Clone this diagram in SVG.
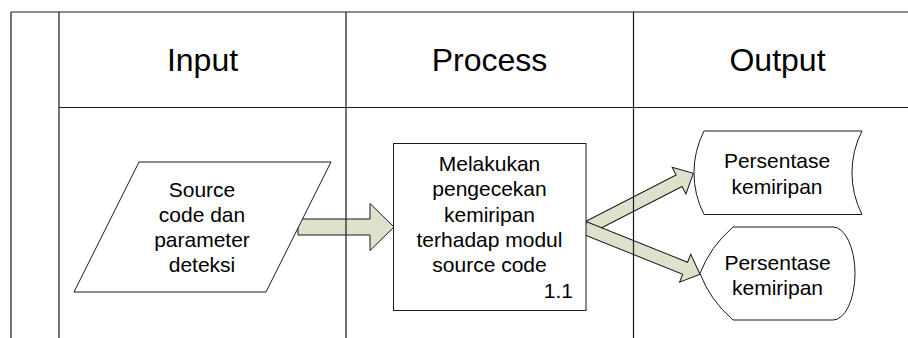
<svg xmlns="http://www.w3.org/2000/svg" width="908" height="338" viewBox="0 0 908 338">
  <defs>
    <style>
      .lane { fill: none; stroke: #1a1a1a; stroke-width: 1.2; }
      .shape { fill: #ffffff; stroke: #1a1a1a; stroke-width: 1; }
      .flow { fill: #dde2cd; stroke: #1a1a1a; stroke-width: 1; stroke-linejoin: miter; }
      .head { font-family: "Liberation Sans", Arial, sans-serif; font-size: 32px; fill: #000; text-anchor: middle; }
      .label { font-family: "Liberation Sans", Arial, sans-serif; font-size: 21px; fill: #000; text-anchor: middle; }
    </style>
  </defs>

  <rect width="908" height="338" fill="#ffffff"/>

  <!-- block arrows between the process steps -->
  <g id="connectors">
    <polygon class="flow" points="298,219 370,219 370,203.5 394,227 370,250.5 370,235 298,235"/>
    <g transform="translate(588,227.5) rotate(-27.2)">
      <polygon class="flow" points="0,-6.5 102.4,-6.5 102.4,-15 118.4,0 102.4,15 102.4,6.5 0,6.5"/>
    </g>
    <g transform="translate(584.2,227.7) rotate(21.9)">
      <polygon class="flow" points="0,-6.5 108.8,-6.5 108.8,-15 124.8,0 108.8,15 108.8,6.5 0,6.5"/>
    </g>
  </g>

  <!-- swimlane grid -->
  <g id="lanes">
    <line class="lane" x1="11" y1="12" x2="908" y2="12"/>
    <line class="lane" x1="59" y1="107.5" x2="908" y2="107.5"/>
    <line class="lane" x1="11" y1="12" x2="11" y2="338"/>
    <line class="lane" x1="59" y1="12" x2="59" y2="338"/>
    <line class="lane" x1="346" y1="12" x2="346" y2="338"/>
    <line class="lane" x1="633.5" y1="12" x2="633.5" y2="338"/>
    <text class="head" x="202.5" y="71">Input</text>
    <text class="head" x="489.5" y="71">Process</text>
    <text class="head" x="777.5" y="71">Output</text>
  </g>

  <g id="input-data">
    <polygon class="shape" points="139,162 331,162 266,292 74,292"/>
    <text class="label" x="202" y="196.7">Source</text>
    <text class="label" x="202" y="221.7">code dan</text>
    <text class="label" x="202" y="246.7">parameter</text>
    <text class="label" x="202" y="271.7">deteksi</text>
  </g>

  <g id="process-1-1">
    <rect class="shape" x="393.5" y="143.5" width="192.5" height="167"/>
    <text class="label" x="489.5" y="171">Melakukan</text>
    <text class="label" x="489.5" y="196.3">pengecekan</text>
    <text class="label" x="489.5" y="221.6">kemiripan</text>
    <text class="label" x="489.5" y="246.9">terhadap modul</text>
    <text class="label" x="489.5" y="272.2">source code</text>
    <text class="label" x="573" y="297.5" style="text-anchor:end">1.1</text>
  </g>

  <g id="output-stored">
    <path class="shape" d="M704,131 L862,131 A92 92 0 0 0 862,214.5 L704,214.5 A92 92 0 0 1 704,131 Z"/>
    <text class="label" x="777" y="168.3">Persentase</text>
    <text class="label" x="777" y="193.5">kemiripan</text>
  </g>

  <g id="output-display">
    <path class="shape" d="M733,227 L833,227 A22 46.5 0 0 1 833,320 L733,320 Q710,300 700,273.5 Q710,247 733,227 Z"/>
    <text class="label" x="777.5" y="270">Persentase</text>
    <text class="label" x="777.5" y="295">kemiripan</text>
  </g>
</svg>
